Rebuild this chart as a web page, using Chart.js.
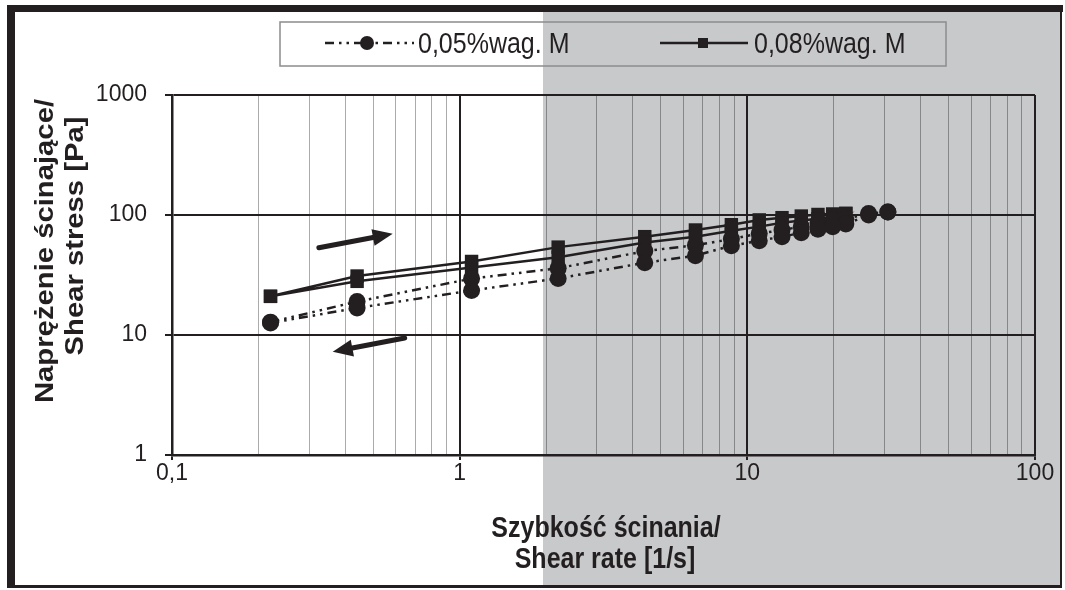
<!DOCTYPE html>
<html>
<head>
<meta charset="utf-8">
<script src="https://cdn.jsdelivr.net/npm/chart.js@4.4.0/dist/chart.umd.min.js"></script>
<style>
html, body { margin: 0; padding: 0; background: #fff; }
</style>
</head>
<body>
<canvas id="stressChart" width="1065" height="590"></canvas>
<script>
// shear rate [1/s] and shear stress [Pa], ramp up and ramp down
const rate05 = [0.22, 0.44, 1.1, 2.2, 4.4, 6.6, 8.8, 11, 13.2, 15.4, 17.6, 19.8, 22, 26.4, 30.8];
const stress05Up = [12.8, 19, 29.5, 36, 50, 56, 63, 70, 75, 80, 86, 90, 93, 103, 106];
const stress05Down = [12.6, 16.8, 23.5, 29.6, 40, 45.8, 55.5, 61, 66, 71, 76, 80, 84, 100, 106];

const rate08 = [0.22, 0.44, 1.1, 2.2, 4.4, 6.6, 8.8, 11, 13.2, 15.4, 17.6, 19.8, 22];
const stress08Up = [21, 31, 41, 54, 66, 75, 83, 91, 95, 98, 101, 102, 103];
const stress08Down = [21, 28, 36.5, 44.5, 59, 66, 74, 80, 86, 90, 93, 95, 103];

const seriesLabels = ["0,05%wag. M", "0,08%wag. M"];

// direction arrows, in data units: [x0, y0, x1, y1]
const arrowUp = [0.324, 53.4, 0.585, 69.7];
const arrowDown = [0.644, 9.45, 0.362, 7.24];

const xTitle = ["Szybkość ścinania/", "Shear rate [1/s]"];
const yTitle = ["Naprężenie ścinające/", "Shear stress [Pa]"];

const ink = "#231f20";
const shade = "#c8c9cb";
const dash05 = [9, 5, 2.5, 5, 2.5, 5];

function loop(rates, up, down) {
    const pts = rates.map((x, i) => ({ x: x, y: up[i] }));
    for (let i = rates.length - 1; i >= 0; i--) {
        pts.push({ x: rates[i], y: down[i] });
    }
    return pts;
}

function isPow10(v) {
    const l = Math.log10(v);
    return Math.abs(l - Math.round(l)) < 1e-6;
}

function isWholeStep(v) {
    const s = v / Math.pow(10, Math.floor(Math.log10(v) + 1e-9));
    return Math.abs(s - Math.round(s)) < 1e-6;
}

function stretchedText(ctx, text, x, y, sx, sy) {
    ctx.save();
    ctx.translate(x, y);
    ctx.scale(sx, sy);
    ctx.fillText(text, 0, 0);
    ctx.restore();
}

const pagePlugin = {
    id: "page",
    beforeDraw(chart) {
        const ctx = chart.ctx;
        ctx.save();
        ctx.fillStyle = "#ffffff";
        ctx.fillRect(0, 0, chart.width, chart.height);
        ctx.fillStyle = shade;
        ctx.fillRect(543, 12, 518, 574);
        ctx.restore();
    },
    afterDatasetsDraw(chart) {
        const ctx = chart.ctx;
        const xs = chart.scales.x, ys = chart.scales.y;
        ctx.save();
        ctx.fillStyle = ink;
        ctx.strokeStyle = ink;
        [arrowUp, arrowDown].forEach(a => {
            const x0 = xs.getPixelForValue(a[0]), y0 = ys.getPixelForValue(a[1]);
            const x1 = xs.getPixelForValue(a[2]), y1 = ys.getPixelForValue(a[3]);
            const ang = Math.atan2(y1 - y0, x1 - x0);
            const head = 20, half = 8.5;
            const bx = x1 - head * Math.cos(ang), by = y1 - head * Math.sin(ang);
            ctx.lineWidth = 5;
            ctx.lineCap = "round";
            ctx.beginPath();
            ctx.moveTo(x0, y0);
            ctx.lineTo(bx, by);
            ctx.stroke();
            ctx.beginPath();
            ctx.moveTo(x1, y1);
            ctx.lineTo(bx + half * Math.sin(ang), by - half * Math.cos(ang));
            ctx.lineTo(bx - half * Math.sin(ang), by + half * Math.cos(ang));
            ctx.closePath();
            ctx.fill();
        });
        ctx.restore();
    },
    afterDraw(chart) {
        const ctx = chart.ctx;
        ctx.save();

        // legend box
        ctx.strokeStyle = "#8c8c8c";
        ctx.lineWidth = 1.5;
        ctx.strokeRect(280, 22, 666, 44);
        const ds = chart.data.datasets;
        ctx.strokeStyle = ink;
        ctx.fillStyle = ink;
        ctx.lineWidth = 2.5;
        ctx.setLineDash(ds[0].borderDash);
        ctx.beginPath();
        ctx.moveTo(325, 43);
        ctx.lineTo(414, 43);
        ctx.stroke();
        ctx.setLineDash([]);
        ctx.beginPath();
        ctx.arc(367, 43, 7, 0, Math.PI * 2);
        ctx.fill();
        ctx.beginPath();
        ctx.moveTo(660, 43);
        ctx.lineTo(748, 43);
        ctx.stroke();
        ctx.fillRect(698, 38, 10, 10);

        ctx.font = "25px 'Liberation Sans', Arial, sans-serif";
        ctx.textBaseline = "alphabetic";
        ctx.textAlign = "left";
        stretchedText(ctx, ds[0].label, 418, 53, 1, 1.17);
        stretchedText(ctx, ds[1].label, 754, 53, 1, 1.17);

        // axis titles
        ctx.font = "bold 25px 'Liberation Sans', Arial, sans-serif";
        ctx.textAlign = "center";
        stretchedText(ctx, xTitle[0], 606, 537, 1, 1.17);
        stretchedText(ctx, xTitle[1], 605, 568, 1, 1.17);
        [[yTitle[0], 53, 251], [yTitle[1], 83, 236]].forEach(t => {
            ctx.save();
            ctx.translate(t[1], t[2]);
            ctx.rotate(-Math.PI / 2);
            ctx.scale(1.17, 1);
            ctx.fillText(t[0], 0, 0);
            ctx.restore();
        });

        // page frame
        ctx.fillStyle = ink;
        ctx.fillRect(7, 5, 8, 582);
        ctx.fillRect(7, 5, 1056, 7);
        ctx.fillRect(1060, 5, 2, 582);
        ctx.fillRect(7, 585, 1055, 3);
        ctx.restore();
    }
};

const tickFont = { family: "'Liberation Sans', Arial, sans-serif", size: 23 };

new Chart(document.getElementById("stressChart"), {
    type: "scatter",
    data: {
        datasets: [{
            label: seriesLabels[0],
            data: loop(rate05, stress05Up, stress05Down),
            showLine: true,
            borderColor: ink,
            backgroundColor: ink,
            borderWidth: 2.5,
            borderDash: dash05,
            pointStyle: "circle",
            pointRadius: 8.5,
            pointBorderWidth: 0
        }, {
            label: seriesLabels[1],
            data: loop(rate08, stress08Up, stress08Down),
            showLine: true,
            borderColor: ink,
            backgroundColor: ink,
            borderWidth: 2.5,
            pointStyle: "rect",
            pointRadius: 9.5,
            pointBorderWidth: 0
        }]
    },
    options: {
        responsive: false,
        animation: false,
        events: [],
        layout: { padding: { top: 95, right: 30, left: 0, bottom: 0 } },
        plugins: { legend: { display: false }, tooltip: { enabled: false } },
        scales: {
            x: {
                type: "logarithmic",
                min: 0.1,
                max: 100,
                afterFit: s => { s.height = 135; },
                ticks: {
                    autoSkip: false,
                    maxRotation: 0,
                    padding: 0,
                    color: ink,
                    font: tickFont,
                    callback: v => isPow10(v) ? String(v).replace(".", ",") : ""
                },
                grid: {
                    color: c => !isWholeStep(c.tick.value) ? "transparent" : (isPow10(c.tick.value) ? ink : "rgba(0,0,0,0.33)"),
                    lineWidth: c => isPow10(c.tick.value) ? 2 : 1,
                    tickColor: c => isPow10(c.tick.value) ? ink : "transparent",
                    tickLength: 5
                },
                border: { display: true, color: ink, width: 2.5 }
            },
            y: {
                type: "logarithmic",
                min: 1,
                max: 1000,
                afterFit: s => { s.width = 172; },
                ticks: {
                    autoSkip: false,
                    padding: 18,
                    color: ink,
                    font: tickFont,
                    callback: v => isPow10(v) ? String(v) : ""
                },
                grid: {
                    color: c => isPow10(c.tick.value) ? ink : "transparent",
                    lineWidth: 2,
                    tickLength: 7
                },
                border: { display: true, color: ink, width: 2.5 }
            }
        }
    },
    plugins: [pagePlugin]
});
</script>
</body>
</html>
